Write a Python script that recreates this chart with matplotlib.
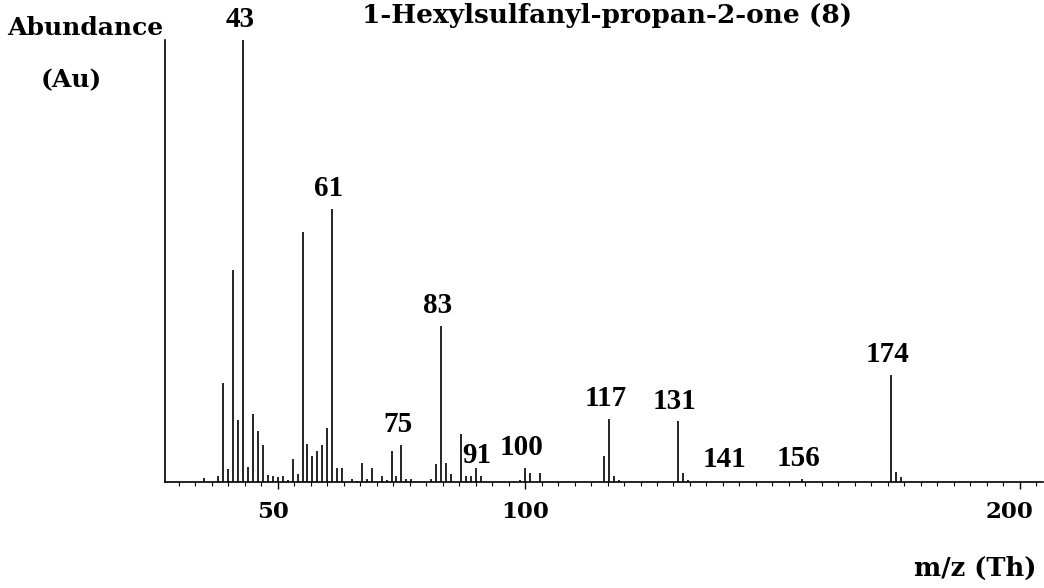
import matplotlib
matplotlib.use("Agg")
import matplotlib.pyplot as plt
from matplotlib.ticker import MultipleLocator
from matplotlib.transforms import ScaledTranslation

# m/z values and relative abundance (% of base peak 43)
mz = [35, 38, 39, 40, 41, 42, 43, 44, 45, 46, 47, 48, 49, 50, 51, 52, 53, 54,
      55, 56, 57, 58, 59, 60, 61, 62, 63, 65, 66, 67, 68, 69, 71, 72, 73, 74,
      75, 76, 77, 81, 82, 83, 84, 85, 87, 88, 89, 90, 91, 99, 100, 101, 103,
      116, 117, 118, 119, 131, 132, 133, 156, 174, 175, 176]
abundance = [1.0, 1.4, 22.4, 3.0, 48.0, 14.0, 100.0, 3.4, 15.4, 11.5, 8.4, 1.6,
             1.4, 1.2, 1.4, 0.5, 5.2, 1.8, 56.6, 8.7, 5.9, 7.1, 8.4, 12.3, 61.8,
             3.2, 3.2, 0.7, 0.3, 4.2, 0.7, 3.2, 1.4, 0.5, 7.0, 1.4, 8.4, 0.7,
             0.7, 0.7, 4.0, 35.3, 4.2, 1.8, 10.9, 1.4, 1.4, 3.2, 1.4, 0.4, 3.1,
             2.1, 2.1, 5.9, 14.3, 1.4, 0.4, 13.7, 2.0, 0.5, 0.7, 24.2, 2.3, 1.1]

# annotated peaks
labelled = [43, 61, 75, 83, 91, 100, 117, 131, 141, 156, 174]
xticks = [50, 100, 200]

title = "1-Hexylsulfanyl-propan-2-one (8)"
peak_font = "Liberation Serif"
wide_font = "DejaVu Serif"   # the scanned labels look horizontally stretched

fig = plt.figure(figsize=(10.44, 5.88), dpi=100)
ax = fig.add_axes([165 / 1044, 106 / 588, 878 / 1044, 442 / 588])

ax.vlines(mz, 0, abundance, color="black", linewidth=1.2)

lookup = dict(zip(mz, abundance))
for m in labelled:
    h = max(lookup.get(m, 0.0), 0.5)
    ax.annotate(str(m), (m, h), xytext=(-2.5, 5), textcoords="offset points",
                ha="center", va="bottom", fontsize=21, fontweight="bold",
                family=peak_font, color="black")

ax.set_xlim(27.2, 204.7)
ax.set_ylim(0, 100)
ax.set_xticks(xticks)
ax.set_xticklabels([str(t) for t in xticks], fontsize=16.5, fontweight="bold",
                   family=wide_font)
ax.xaxis.set_minor_locator(MultipleLocator(10 / 3))
ax.tick_params(axis="x", which="major", length=5, width=1, pad=9, direction="out")
ax.tick_params(axis="x", which="minor", length=3, width=0.8, direction="out")
ax.set_yticks([])

for side in ("top", "right"):
    ax.spines[side].set_visible(False)
ax.spines["left"].set_linewidth(1.2)
ax.spines["bottom"].set_linewidth(1.2)

# nudge some tick labels as in the original
for lbl in ax.get_xticklabels():
    if lbl.get_text() == "200":
        lbl.set_transform(lbl.get_transform() + ScaledTranslation(-0.10, 0, fig.dpi_scale_trans))
    if lbl.get_text() == "50":
        lbl.set_transform(lbl.get_transform() + ScaledTranslation(-0.05, 0, fig.dpi_scale_trans))

fig.text(85 / 1044, 1 - 28 / 588, "Abundance", ha="center", va="center",
         fontsize=18, fontweight="bold", family=wide_font)
fig.text(71 / 1044, 1 - 80 / 588, "(Au)", ha="center", va="center",
         fontsize=18, fontweight="bold", family=wide_font)
fig.text(607 / 1044, 1 - 15 / 588, title, ha="center", va="center",
         fontsize=19, fontweight="bold", family=wide_font)
fig.text(975 / 1044, 1 - 568 / 588, "m/z (Th)", ha="center", va="center",
         fontsize=18.5, fontweight="bold", family=wide_font)

fig.savefig("out.png", dpi=100)
